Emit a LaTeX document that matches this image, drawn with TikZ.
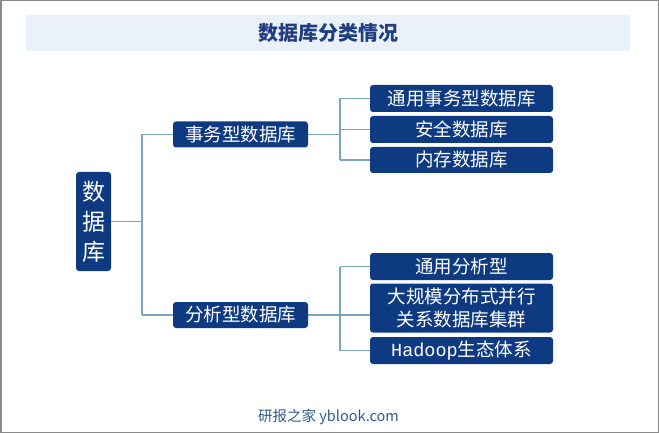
\documentclass[tikz,border=0pt]{standalone}
\usepackage{fontspec}
\newfontfamily\cjk{Noto Sans CJK SC}
\newfontfamily\monofont{Liberation Mono}
\definecolor{nodeblue}{HTML}{0E3A82}
\definecolor{titlebg}{HTML}{EAF1FB}
\definecolor{titlefg}{HTML}{1F3F80}
\definecolor{linkc}{HTML}{7BA6BA}
\definecolor{footc}{HTML}{2E5C8A}
\definecolor{framec}{HTML}{8A8A8A}
\begin{document}
\begin{tikzpicture}[x=1pt,y=-1pt,
  box/.style={fill=nodeblue,rounded corners=3pt,text=white,inner sep=0pt,align=center,font=\cjk\fontsize{18.5}{22}\selectfont},
  link/.style={draw=linkc,line width=1.5pt}]
\useasboundingbox (0,0) rectangle (659,433);
\draw[framec,line width=1.5pt] (0.75,0.75) rectangle (658.25,432.25);
\fill[titlebg] (26,15) rectangle (630,51);
\node[text=titlefg,font=\cjk\bfseries\fontsize{20}{23}\selectfont] (title) at (328,33) {数据库分类情况};
% root
\node[box,minimum width=35pt,minimum height=99pt,font=\cjk\fontsize{23}{30}\selectfont] (root) at (93.5,221.5) {数\\据\\库};
% level 1
\node[box,minimum width=135pt,minimum height=26pt] (tx) at (240.5,134.5) {事务型数据库};
\node[box,minimum width=135pt,minimum height=26pt] (an) at (240.5,315) {分析型数据库};
% leaves
\node[box,minimum width=183pt,minimum height=27pt] (l1) at (461.5,98.5) {通用事务型数据库};
\node[box,minimum width=183pt,minimum height=27pt] (l2) at (461.5,129.5) {安全数据库};
\node[box,minimum width=183pt,minimum height=26pt] (l3) at (461.5,160) {内存数据库};
\node[box,minimum width=183pt,minimum height=27pt] (l4) at (461.5,266.5) {通用分析型};
\node[box,minimum width=183pt,minimum height=49pt,font=\cjk\fontsize{18.5}{23}\selectfont] (l5) at (461.5,308) {大规模分布式并行\\关系数据库集群};
\node[box,minimum width=183pt,minimum height=27pt] (l6) at (461.5,350.5) {{\monofont Hadoop}生态体系};
% connectors
\coordinate (r1) at (142,221.5);
\coordinate (t1) at (340,134.5);
\coordinate (a1) at (340,315);
\draw[link] (root.east) -- (r1);
\draw[link] (r1 |- tx.west) -- (r1 |- an.west);
\draw[link] (r1 |- tx.west) -- (tx.west);
\draw[link] (r1 |- an.west) -- (an.west);
\draw[link] (tx.east) -- (t1);
\draw[link] (t1 |- l1.west) -- (t1 |- l3.west);
\draw[link] (t1 |- l1.west) -- (l1.west);
\draw[link] (t1 |- l2.west) -- (l2.west);
\draw[link] (t1 |- l3.west) -- (l3.west);
\draw[link] (an.east) -- (a1);
\draw[link] (t1 |- l4.west) -- (t1 |- l6.west);
\draw[link] (t1 |- l4.west) -- (l4.west);
\draw[link] (a1) -- (a1 -| l5.west);
\draw[link] (t1 |- l6.west) -- (l6.west);
% footer
\node[text=footc,font=\cjk\fontsize{14.5}{17}\selectfont] (foot) at (328.5,417) {研报之家 yblook.com};
\end{tikzpicture}
\end{document}
